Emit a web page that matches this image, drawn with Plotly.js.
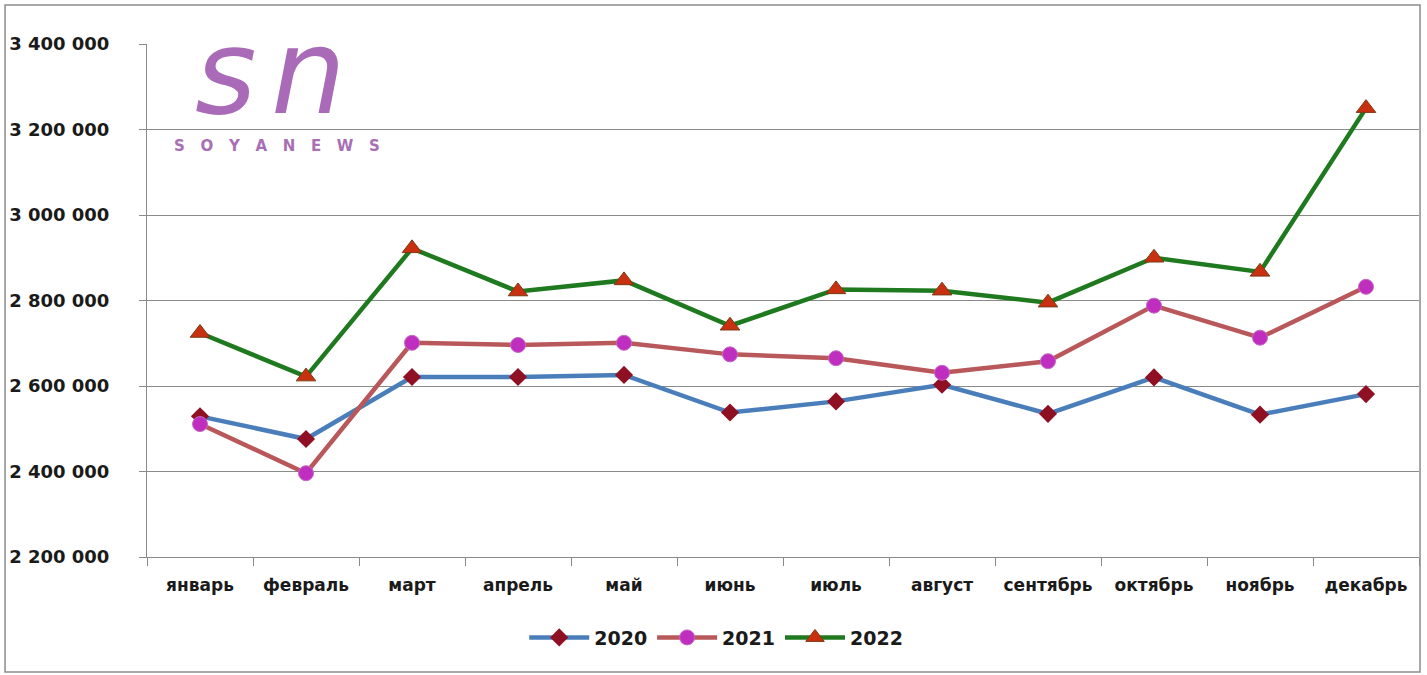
<!DOCTYPE html>
<html>
<head>
<meta charset="utf-8">
<script src="https://cdn.plot.ly/plotly-3.0.1.min.js"></script>
<style>
  html, body { margin: 0; padding: 0; background: #ffffff; }
  #chart { width: 1427px; height: 675px; }
</style>
</head>
<body>
<div id="chart"></div>
<script>
const months = ["январь", "февраль", "март", "апрель", "май", "июнь", "июль", "август", "сентябрь", "октябрь", "ноябрь", "декабрь"];
const values2020 = [2529000, 2476000, 2621000, 2621000, 2626000, 2538000, 2564000, 2603000, 2535000, 2620000, 2533000, 2581000];
const values2021 = [2511000, 2396000, 2701000, 2696000, 2701000, 2674000, 2665000, 2631000, 2658000, 2788000, 2713000, 2832000];
const values2022 = [2724000, 2622000, 2922000, 2821000, 2847000, 2741000, 2826000, 2823000, 2795000, 2900000, 2867000, 3250000];
const seriesNames = ["2020", "2021", "2022"];
const yTicks = [2200000, 2400000, 2600000, 2800000, 3000000, 3200000, 3400000];

const traces = [
  {
    x: months, y: values2020, name: seriesNames[0], type: "scatter", mode: "lines+markers",
    line: { color: "#4A7EBB", width: 4.5 },
    marker: { symbol: "diamond", size: 14, color: "#8E1022", line: { color: "#8E1022", width: 0 } }
  },
  {
    x: months, y: values2021, name: seriesNames[1], type: "scatter", mode: "lines+markers",
    line: { color: "#B9585A", width: 4.5 },
    marker: { symbol: "circle", size: 15, color: "#C02EC0", line: { color: "#C46AC4", width: 1 } }
  },
  {
    x: months, y: values2022, name: seriesNames[2], type: "scatter", mode: "lines+markers",
    line: { color: "#1F7A1F", width: 4.5 },
    marker: { symbol: "triangle-up", size: 17, color: "#C8300F", line: { color: "#7A3A14", width: 1 } }
  }
];

const labelFont = { family: "DejaVu Sans", size: 17, color: "#1a1a1a", weight: "bold" };
const logoColor = "#A96BB8";

const layout = {
  width: 1427, height: 675,
  paper_bgcolor: "#ffffff", plot_bgcolor: "#ffffff",
  margin: { l: 147, r: 8, t: 44, b: 118, pad: 0 },
  separators: ", ",
  showlegend: true,
  legend: {
    orientation: "h", x: 0.4475, xanchor: "center", y: -0.157, yanchor: "middle",
    font: { family: "DejaVu Sans", size: 19, color: "#1a1a1a", weight: "bold" },
    itemwidth: 60, tracegroupgap: 0, bgcolor: "rgba(0,0,0,0)"
  },
  xaxis: {
    type: "category", range: [-0.5, 11.5],
    showline: true, linecolor: "#8a8a8a", linewidth: 1,
    ticks: "outside", tickson: "boundaries", ticklen: 8, tickcolor: "#8a8a8a",
    showgrid: false, zeroline: false,
    tickfont: labelFont, ticklabelstandoff: 13
  },
  yaxis: {
    range: [2200000, 3400000], tickvals: yTicks, tickformat: ",.0f",
    showline: true, linecolor: "#8a8a8a", linewidth: 1,
    ticks: "outside", ticklen: 7, tickcolor: "#8a8a8a",
    showgrid: true, gridcolor: "#8a8a8a", gridwidth: 1, zeroline: false,
    tickfont: { family: "DejaVu Sans", size: 18, color: "#1a1a1a", weight: "bold" },
    ticklabelstandoff: 26
  },
  shapes: [
    { type: "rect", xref: "paper", yref: "paper",
      x0: -0.1116, x1: 1.0008, y0: -0.2242, y1: 1.0760,
      line: { color: "#8c8c8c", width: 1.5 }, fillcolor: "rgba(0,0,0,0)", layer: "below" }
  ],
  annotations: [
    { xref: "paper", yref: "paper", x: 0.062, y: 0.945, xanchor: "center", yanchor: "middle",
      text: "<i>s</i>", showarrow: false,
      font: { family: "DejaVu Sans", size: 118, color: logoColor } },
    { xref: "paper", yref: "paper", x: 0.127, y: 0.945, xanchor: "center", yanchor: "middle",
      text: "<i>n</i>", showarrow: false,
      font: { family: "DejaVu Sans", size: 118, color: logoColor } },
    { xref: "paper", yref: "paper", x: 0.0195, y: 0.802, xanchor: "left", yanchor: "middle",
      text: "S\u00A0\u00A0\u00A0O\u00A0\u00A0\u00A0Y\u00A0\u00A0\u00A0A\u00A0\u00A0\u00A0N\u00A0\u00A0\u00A0E\u00A0\u00A0\u00A0W\u00A0\u00A0\u00A0S",
      showarrow: false,
      font: { family: "DejaVu Sans", size: 15, color: "#A86FB5", weight: "bold" } }
  ]
};

Plotly.newPlot("chart", traces, layout, { displayModeBar: false, staticPlot: true });
</script>
</body>
</html>
